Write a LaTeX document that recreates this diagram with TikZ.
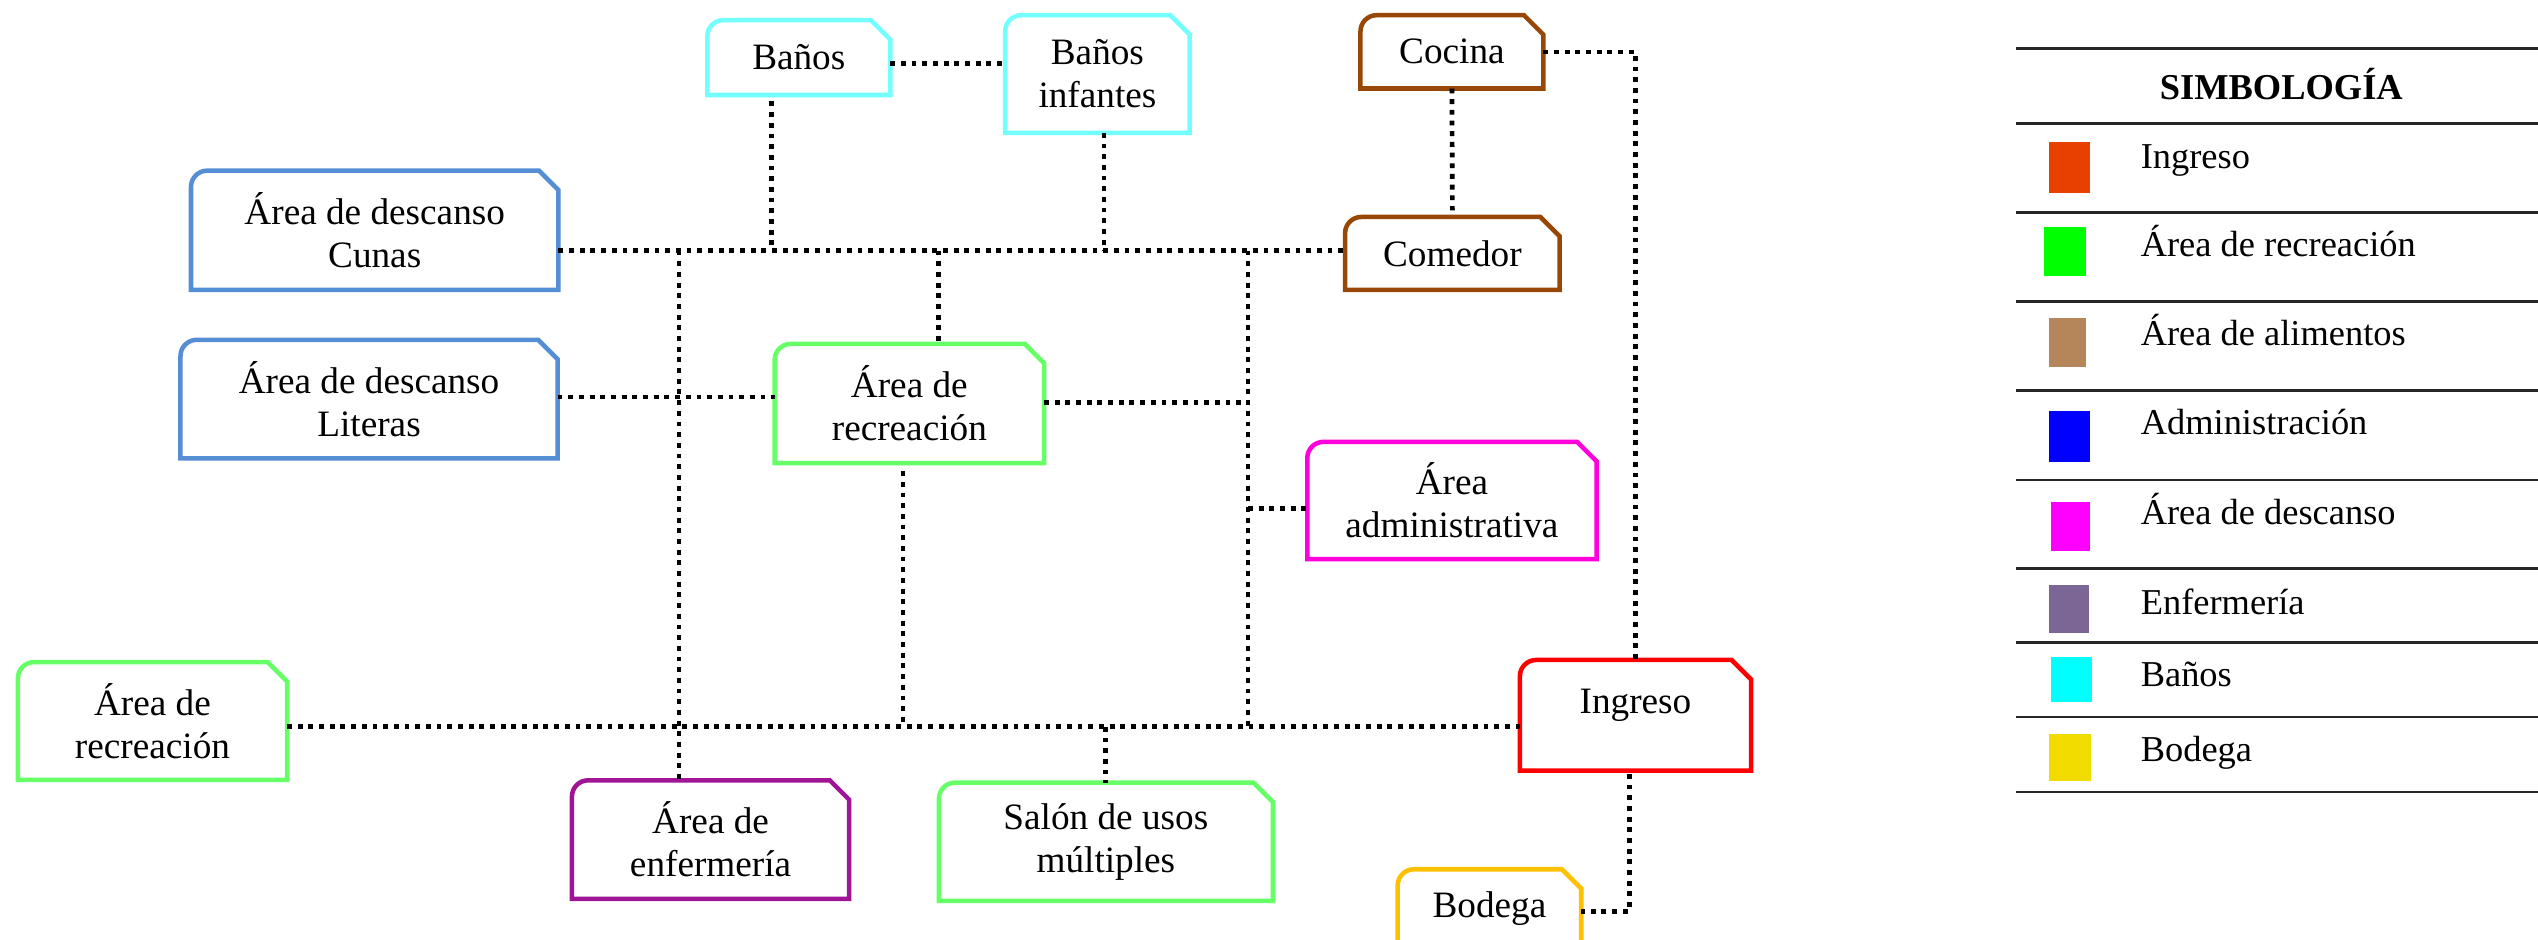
\documentclass[tikz,border=0pt]{standalone}
\usepackage{fontspec}
\setmainfont{Liberation Serif}
\definecolor{cyanbox}{RGB}{115,255,255}
\definecolor{bluebox}{RGB}{85,142,213}
\definecolor{brownbox}{RGB}{152,72,6}
\definecolor{greenbox}{RGB}{102,255,102}
\definecolor{magbox}{RGB}{255,0,220}
\definecolor{redbox}{RGB}{255,0,0}
\definecolor{purplebox}{RGB}{160,20,150}
\definecolor{yellowbox}{RGB}{255,192,0}
\definecolor{lgingreso}{RGB}{232,64,0}
\definecolor{lggreen}{RGB}{0,255,0}
\definecolor{lgbrown}{RGB}{181,134,90}
\definecolor{lgblue}{RGB}{0,0,255}
\definecolor{lgmag}{RGB}{255,0,255}
\definecolor{lgpurple}{RGB}{123,102,150}
\definecolor{lgcyan}{RGB}{0,255,255}
\definecolor{lgyellow}{RGB}{242,220,0}
\newcommand{\snipbox}[2]{%
  \draw[boxline,#2] ([xshift=10pt]#1.north west) -- ([xshift=-12pt]#1.north east)
    -- ([yshift=-12pt]#1.north east) -- (#1.south east) -- (#1.south west)
    -- ([yshift=-10pt]#1.north west) arc[start angle=180,end angle=90,radius=10pt] -- cycle;}
\tikzset{
  area/.style={rectangle,draw=none,inner sep=0pt,outer sep=0pt,align=center,
    font=\fontsize{23}{26.5}\selectfont},
  boxline/.style={line width=2.8pt,line join=miter},
  conn/.style={line width=2.9pt,dash pattern=on 3pt off 3.6pt,black},
  legline/.style={line width=1.5pt,black!85},
  sq/.style={rectangle,draw=none,inner sep=0pt},
  legtext/.style={inner sep=0pt,anchor=base west,font=\fontsize{22.5}{26}\selectfont},
}
\begin{document}
\begin{tikzpicture}[x=1pt,y=1pt]
\useasboundingbox (0,0) rectangle (1568,580.74);
% nodes
\node[area,minimum width=113,minimum height=46.3] (banos) at (493.5,545.2) {Baños};
\node[area,minimum width=114,minimum height=72.7] (banosinf) at (678,535) {Baños\\infantes};
\node[area,minimum width=113,minimum height=45.3] (cocina) at (897,548.7) {Cocina};
\node[area,minimum width=227,minimum height=73.6] (cunas) at (231.5,438.5) {Área de descanso\\Cunas};
\node[area,minimum width=132.6,minimum height=45] (comedor) at (897.3,424.2) {Comedor};
\node[area,minimum width=233,minimum height=73.2] (literas) at (228,334.2) {Área de descanso\\Literas};
\node[area,minimum width=166.4,minimum height=73.7] (recc) at (561.8,331.5) {Área de\\recreación};
\node[area,minimum width=178.7,minimum height=72.5] (admin) at (897,271.5) {Área\\administrativa};
\node[area,minimum width=166.3,minimum height=72.8] (recl) at (94.2,135.3) {Área de\\recreación};
\node[area,minimum width=142.8,minimum height=68.4,text height=15pt,text depth=17.6pt] (ingreso) at (1010.4,138.8) {Ingreso};
\node[area,minimum width=171.3,minimum height=73.3] (enf) at (439,62) {Área de\\enfermería};
\node[area,minimum width=206.3,minimum height=73.1] (salon) at (683.2,60.7) {Salón de usos\\múltiples};
\node[area,minimum width=113.4,minimum height=48] (bodega) at (920.2,19.7) {Bodega};
% outlines
\snipbox{banos}{cyanbox}
\snipbox{banosinf}{cyanbox}
\snipbox{cocina}{brownbox}
\snipbox{comedor}{brownbox}
\snipbox{cunas}{bluebox}
\snipbox{literas}{bluebox}
\snipbox{recc}{greenbox}
\snipbox{recl}{greenbox}
\snipbox{salon}{greenbox}
\snipbox{admin}{magbox}
\snipbox{ingreso}{redbox}
\snipbox{enf}{purplebox}
\snipbox{bodega}{yellowbox}
% junctions
\coordinate (tA) at (419.5,425.9);
\coordinate (tB) at (476.7,425.9);
\coordinate (tC) at (580,425.9);
\coordinate (tD) at (682,425.9);
\coordinate (tE) at (771,425.9);
\coordinate (bb) at (0,541.7);
\coordinate (lr) at (0,335.4);
\coordinate (rr) at (0,332);
\coordinate (ad) at (0,266.5);
\coordinate (bR) at (557.8,131.7);
\coordinate (bS) at (683,131.7);
\coordinate (bE) at (771,131.7);
\coordinate (g) at (1006.5,17.7);
% connectors
\draw[conn] (banos.east |- bb) -- (banosinf.west |- bb);
\draw[conn] ([yshift=-4pt]banos.south -| tB) -- (tB);
\draw[conn] (banosinf.south -| tD) -- (tD);
\draw[conn] (cunas.east |- tA) -- (comedor.west |- tA);
\draw[conn] (tA) -- (enf.north -| tA);
\draw[conn] (tC) -- (recc.north -| tC);
\draw[conn] (tE) -- (bE);
\draw[conn] (literas.east |- lr) -- (recc.west |- lr);
\draw[conn] (recc.east |- rr) -- (tE |- rr);
\draw[conn] (tE |- ad) -- (admin.west |- ad);
\draw[conn] ([yshift=-5pt]recc.south -| bR) -- (bR);
\draw[conn] (recl.east |- bR) -- (ingreso.west |- bR);
\draw[conn] (bS) -- (salon.north -| bS);
\draw[conn] (cocina.south) -- ([yshift=4pt]comedor.north);
\draw[conn] (cocina.east) -| (ingreso.north);
\draw[conn] ([yshift=-2pt]ingreso.south -| g) -- (g) -- (bodega.east |- g);
% legend
\foreach \yy in {550.8,504.5,449.5,394.4,339.4,284.2,229.4,183.9,137.7,91.3}
  \draw[legline] (1245.4,\yy) -- (1570,\yy);
\node[inner sep=0pt,anchor=base,font=\fontsize{22.5}{26}\selectfont\bfseries] (ltitle) at (1409.4,519.4) {SIMBOLOGÍA};
\node[sq,fill=lgingreso,minimum width=25.3,minimum height=31.3] (s1) at (1278.4,477.35) {};
\node[sq,fill=lggreen,minimum width=25.9,minimum height=30.3] (s2) at (1275.8,425.35) {};
\node[sq,fill=lgbrown,minimum width=23,minimum height=30.1] (s3) at (1277.2,369.25) {};
\node[sq,fill=lgblue,minimum width=25.3,minimum height=31.3] (s4) at (1278.4,311.15) {};
\node[sq,fill=lgmag,minimum width=23.6,minimum height=30.1] (s5) at (1279.2,255.65) {};
\node[sq,fill=lgpurple,minimum width=24.6,minimum height=29.5] (s6) at (1278,204.65) {};
\node[sq,fill=lgcyan,minimum width=24.8,minimum height=27.6] (s7) at (1279.8,161.1) {};
\node[sq,fill=lgyellow,minimum width=25.9,minimum height=28.8] (s8) at (1278.6,112.9) {};
\node[legtext] (l1) at (1322.4,476.7) {Ingreso};
\node[legtext] (l2) at (1322.4,422.2) {Área de recreación};
\node[legtext] (l3) at (1322.4,367) {Área de alimentos};
\node[legtext] (l4) at (1322.4,312) {Administración};
\node[legtext] (l5) at (1322.4,256.4) {Área de descanso};
\node[legtext] (l6) at (1322.4,201.4) {Enfermería};
\node[legtext] (l7) at (1322.4,156.6) {Baños};
\node[legtext] (l8) at (1322.4,110.2) {Bodega};
\end{tikzpicture}
\end{document}
